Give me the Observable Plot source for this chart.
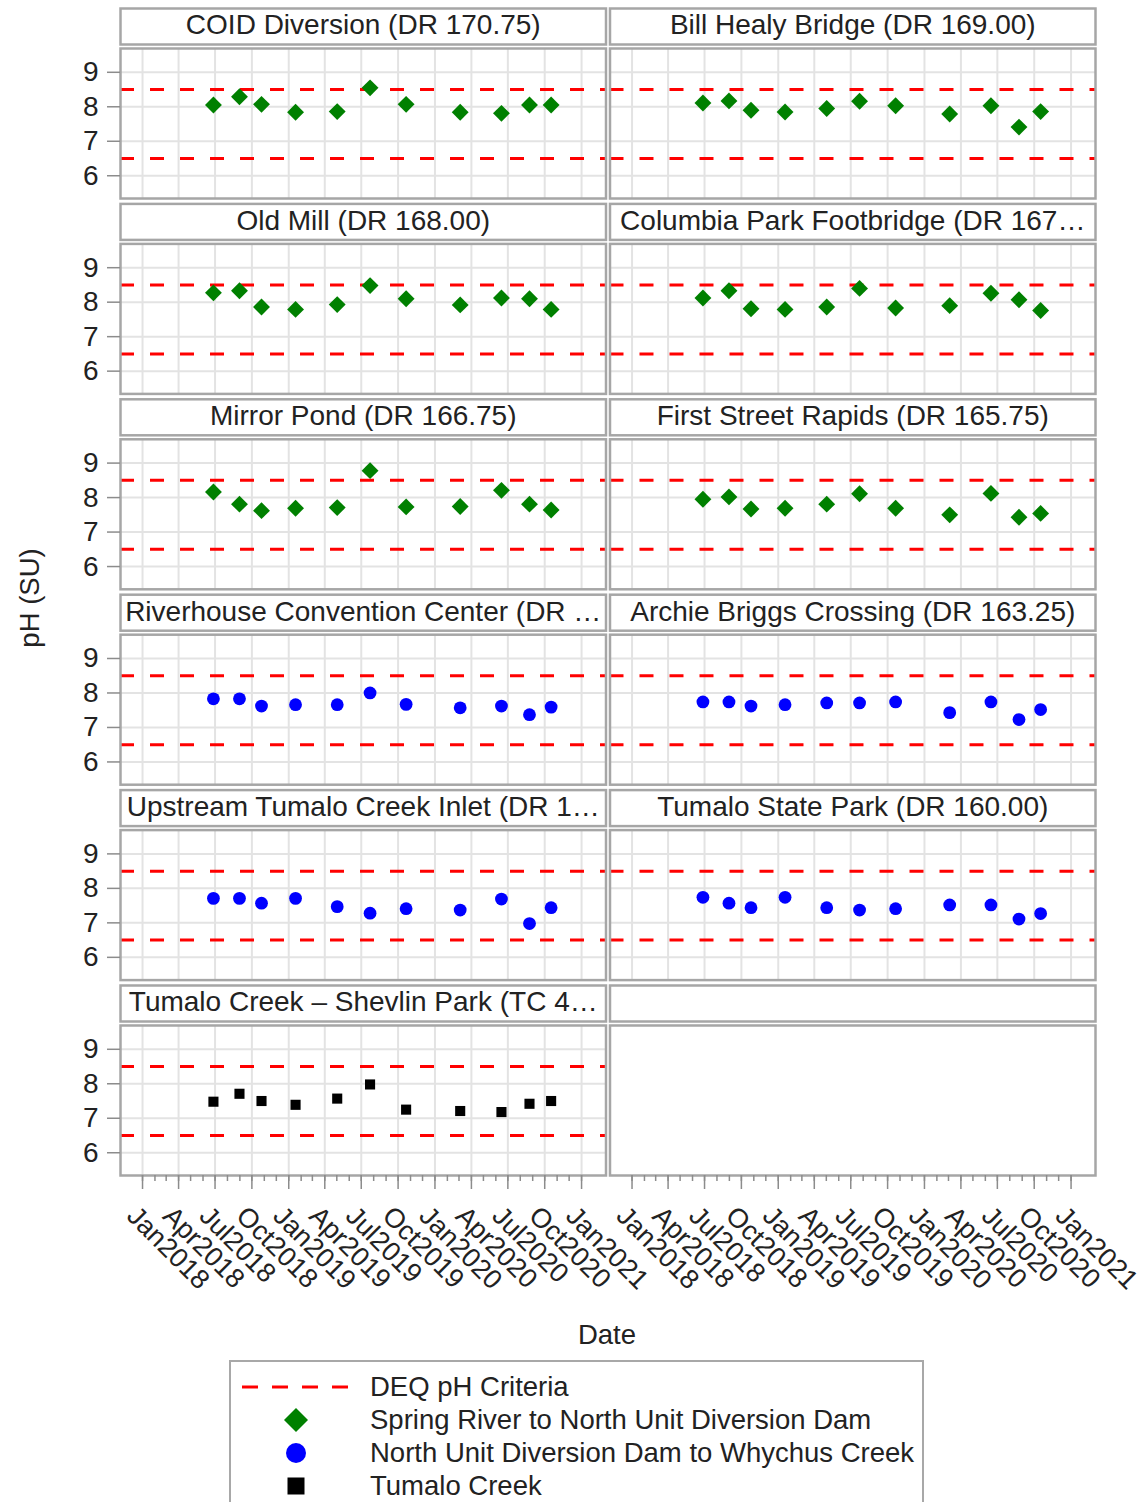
<!DOCTYPE html>
<html>
<head>
<meta charset="utf-8">
<script src="https://cdn.jsdelivr.net/npm/d3@7"></script>
<script src="https://cdn.jsdelivr.net/npm/@observablehq/plot@0.6"></script>
<style>
  body { margin: 0; background: #fff; }
  #wrap { position: relative; width: 1143px; height: 1502px; overflow: hidden; background: #fff;
          font-family: "Liberation Sans", Arial, sans-serif; color: #222; }
  #chart { position: absolute; left: 0; top: 0; }
  #ylab { position: absolute; left: 30px; top: 598px; transform: translate(-50%, -50%) rotate(-90deg);
          font-size: 27.5px; white-space: nowrap; }
  #xlab { position: absolute; left: 607px; top: 1335px; transform: translate(-50%, -50%); font-size: 27.5px; }
  #legend { position: absolute; left: 229px; top: 1360px; width: 695px; height: 170px;
            border: 2px solid #a8a8a8; box-sizing: border-box; background: #fff; }
  .sw { position: absolute; left: 8px; width: 120px; height: 34px; }
  .lt { position: absolute; left: 139px; height: 34px; line-height: 34px; font-size: 27.5px; white-space: nowrap; }
</style>
</head>
<body>
<div id="wrap">
  <div id="chart"></div>
  <div id="ylab">pH (SU)</div>
  <div id="xlab">Date</div>
  <div id="legend"></div>
</div>
<script>
// ---------------- data ----------------
const siteLabels = [
  "COID Diversion (DR 170.75)",
  "Bill Healy Bridge (DR 169.00)",
  "Old Mill (DR 168.00)",
  "Columbia Park Footbridge (DR 167\u2026",
  "Mirror Pond (DR 166.75)",
  "First Street Rapids (DR 165.75)",
  "Riverhouse Convention Center (DR \u2026",
  "Archie Briggs Crossing (DR 163.25)",
  "Upstream Tumalo Creek Inlet (DR 1\u2026",
  "Tumalo State Park (DR 160.00)",
  "Tumalo Creek \u2013 Shevlin Park (TC 4\u2026"
];
const groupNames = [
  "Spring River to North Unit Diversion Dam",
  "North Unit Diversion Dam to Whychus Creek",
  "Tumalo Creek"
];
const siteGroup = [0, 0, 0, 0, 0, 0, 1, 1, 1, 1, 2];

const sampleDates = ["2018-06-27", "2018-08-31", "2018-10-25", "2019-01-18", "2019-05-02", "2019-07-23",
                     "2019-10-21", "2020-03-04", "2020-06-15", "2020-08-24", "2020-10-17"];

const phCOID            = [8.05, 8.29, 8.07, 7.84, 7.86, 8.55, 8.07, 7.84, 7.81, 8.05, 8.05];
const phBillHealy       = [8.11, 8.17, 7.90, 7.85, 7.95, 8.16, 8.03, 7.79, 8.03, 7.41, 7.86];
const phOldMill         = [8.27, 8.33, 7.86, 7.79, 7.93, 8.48, 8.10, 7.92, 8.12, 8.10, 7.79];
const phColumbiaPark    = [8.12, 8.33, 7.81, 7.79, 7.86, 8.40, 7.83, 7.90, 8.26, 8.07, 7.76];
const phMirrorPond      = [8.16, 7.81, 7.62, 7.69, 7.71, 8.78, 7.73, 7.74, 8.21, 7.81, 7.64];
const phFirstStreet     = [7.95, 8.02, 7.67, 7.69, 7.81, 8.11, 7.69, 7.50, 8.12, 7.43, 7.54];
const phRiverhouse      = [7.83, 7.83, 7.62, 7.66, 7.66, 8.00, 7.67, 7.57, 7.62, 7.37, 7.59];
const phArchieBriggs    = [7.74, 7.74, 7.62, 7.66, 7.71, 7.71, 7.74, 7.43, 7.74, 7.23, 7.52];
const phUpstreamTumalo  = [7.71, 7.71, 7.57, 7.71, 7.47, 7.28, 7.41, 7.37, 7.69, 6.98, 7.44];
const phTumaloStatePark = [7.74, 7.57, 7.44, 7.74, 7.44, 7.37, 7.41, 7.52, 7.52, 7.11, 7.27];
const phShevlinPark     = [7.48, 7.71, 7.50, 7.39, 7.57, 7.98, 7.25, 7.21, 7.18, 7.42, 7.50];

const criteria = [8.5, 6.5];
const criteriaLabel = "DEQ pH Criteria";
const yTicks = [6, 7, 8, 9];
const xTickDates = ["2018-01-01", "2018-04-01", "2018-07-01", "2018-10-01", "2019-01-01", "2019-04-01",
                    "2019-07-01", "2019-10-01", "2020-01-01", "2020-04-01", "2020-07-01", "2020-10-01", "2021-01-01"];

// ---------------- build table ----------------
const parse = d3.utcParse("%Y-%m-%d");
const siteValues = [phCOID, phBillHealy, phOldMill, phColumbiaPark, phMirrorPond, phFirstStreet,
                    phRiverhouse, phArchieBriggs, phUpstreamTumalo, phTumaloStatePark, phShevlinPark];
const NCOL = 2, NROW = 6;
const records = [];
siteValues.forEach((vals, i) => vals.forEach((v, j) => records.push({
  site: i, col: i % NCOL, row: Math.floor(i / NCOL), group: siteGroup[i], date: parse(sampleDates[j]), ph: v
})));
const cells = d3.range(NCOL * NROW).map(i => ({col: i % NCOL, row: Math.floor(i / NCOL), label: siteLabels[i] ?? ""}));
const siteCells = cells.slice(0, siteLabels.length);
const xTicks = xTickDates.map(parse);
const monthTicks = d3.utcMonth.range(parse("2018-01-01"), parse("2021-01-02"));
const gridXData = siteCells.flatMap(c => xTicks.map(d => ({...c, date: d})));
const gridYData = siteCells.flatMap(c => yTicks.map(v => ({...c, v})));
const critData = siteCells.flatMap(c => criteria.map(v => ({...c, v})));

const FONT = "Liberation Sans, Arial, sans-serif";
const TEXT = "#222";
const GRID = "#e3e3e3";
const BORDER = "#a6a6a6";
const TICK = "#8c8c8c";
const symbolStyles = [
  {symbol: "diamond2", r: 7.6, fill: "green"},
  {symbol: "circle", r: 6.4, fill: "blue"},
  {symbol: "square", r: 5.7, fill: "black"}
];
const facetBand = 150; // fy band height (derived from scale options below)

const chart = Plot.plot({
  width: 1143,
  height: 1355,
  marginLeft: 120,
  marginRight: 48,
  marginTop: 48,
  marginBottom: 180,
  style: {fontFamily: FONT, fontSize: "28px", color: TEXT, background: "white", overflow: "visible"},
  x: {type: "utc", domain: [parse("2017-11-07"), parse("2021-03-03")]},
  y: {domain: [5.34, 9.69]},
  fx: {domain: [0, 1], paddingInner: 0.00817, paddingOuter: 0, round: false, axis: null},
  fy: {domain: d3.range(NROW), paddingInner: 0.2323, paddingOuter: 0, round: false, axis: null},
  marks: [
    // header strip boxes
    Plot.frame({insetTop: -40, insetBottom: facetBand + 4, stroke: BORDER, strokeWidth: 2.5, fill: "white"}),
    Plot.text(cells, {fx: "col", fy: "row", text: "label", frameAnchor: "top", lineAnchor: "middle",
                      dy: -23, fontSize: 28, fill: TEXT}),
    // grid
    Plot.ruleX(gridXData, {x: "date", fx: "col", fy: "row", stroke: GRID, strokeWidth: 2}),
    Plot.ruleY(gridYData, {y: "v", fx: "col", fy: "row", stroke: GRID, strokeWidth: 2}),
    // criteria
    Plot.ruleY(critData, {y: "v", fx: "col", fy: "row", stroke: "red", strokeWidth: 3, strokeDasharray: "14,16"}),
    // plot frame
    Plot.frame({stroke: BORDER, strokeWidth: 2.5}),
    // data
    ...symbolStyles.map((s, g) => Plot.dot(records.filter(d => d.group === g), {
      x: "date", y: "ph", fx: "col", fy: "row", symbol: s.symbol, r: s.r, fill: s.fill, stroke: "none"
    })),
    // axes
    Plot.axisY({ticks: yTicks, tickSize: 13, tickPadding: 9, tickFormat: d3.format("d"), stroke: TICK,
                strokeWidth: 1.5, fill: TEXT, fontSize: 28, label: null, facetAnchor: "left"}),
    Plot.axisX({ticks: monthTicks, tickSize: 6, tickFormat: () => "", stroke: TICK, strokeWidth: 1.5,
                label: null, facetAnchor: "bottom"}),
    Plot.axisX({ticks: xTicks, tickSize: 14, tickFormat: () => "", stroke: TICK, strokeWidth: 1.5,
                label: null, facetAnchor: "bottom"}),
    Plot.axisX({ticks: xTicks, tickSize: 0, tickPadding: 36, dx: -11, tickRotate: 45,
                tickFormat: d3.utcFormat("%b%Y"), fill: TEXT, fontSize: 27,
                label: null, facetAnchor: "bottom"})
  ]
});
document.getElementById("chart").appendChild(chart);

// ---------------- legend ----------------
const legend = document.getElementById("legend");
const rowCenters = [25, 58, 91, 124];
const legendItems = [{label: criteriaLabel, kind: "line"}, ...groupNames.map((g, i) => ({label: g, kind: i}))];
legendItems.forEach((it, i) => {
  const top = rowCenters[i] - 17;
  const sw = document.createElement("div");
  sw.className = "sw";
  sw.style.top = top + "px";
  let inner;
  if (it.kind === "line") {
    inner = `<line x1="3" x2="119" y1="17" y2="17" stroke="red" stroke-width="3" stroke-dasharray="16,14"/>`;
  } else if (it.kind === 0) {
    inner = `<path d="M57,5 L69,17 L57,29 L45,17 Z" fill="green"/>`;
  } else if (it.kind === 1) {
    inner = `<circle cx="57" cy="17" r="10" fill="blue"/>`;
  } else {
    inner = `<rect x="48.5" y="8.5" width="17" height="17" fill="black"/>`;
  }
  sw.innerHTML = `<svg width="120" height="34">${inner}</svg>`;
  legend.appendChild(sw);
  const lt = document.createElement("div");
  lt.className = "lt";
  lt.style.top = top + "px";
  lt.textContent = it.label;
  legend.appendChild(lt);
});
</script>
</body>
</html>
